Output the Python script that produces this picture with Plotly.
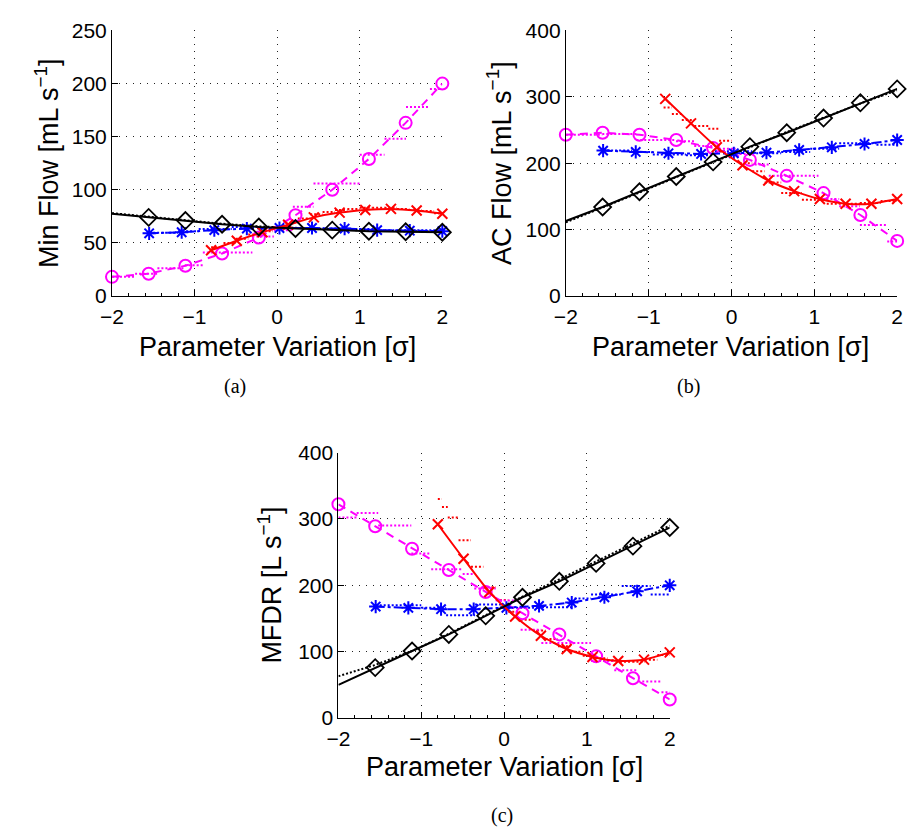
import plotly.graph_objects as go

W, H = 911, 837

# ---- x positions of the markers of each parameter sweep ----
x_grid = [-2.0, -1.556, -1.111, -0.667, -0.222, 0.222, 0.667, 1.111, 1.556, 2.0]
x_blue = [-1.55, -1.156, -0.761, -0.367, 0.028, 0.422, 0.817, 1.211, 1.606, 2.0]
x_red = [-0.8, -0.489, -0.178, 0.133, 0.444, 0.756, 1.067, 1.378, 1.689, 2.0]

# ---- (a) Min Flow [mL/s] ----
a_black = [77.5, 74, 71, 67.5, 65, 63.5, 62, 61, 60.5, 60]
a_black_dot = [78, 74.5, 71.5, 68, 65.5, 64, 62.5, 61.5, 61, 60.5]
a_blue = [59, 60, 62, 63.5, 64, 64, 63.5, 62, 61.5, 61]
a_red = [43, 52, 60, 67, 74, 78.5, 81, 82, 80.5, 77.5]
a_mag = [18, 21, 28.5, 40, 55, 76, 100, 129, 163, 200]
a_blue_sx = [-1.55, -1.2, -0.95, -0.55, -0.2, 0.1, 0.45, 0.85, 1.2, 1.6, 2.0]
a_blue_sy = [59.5, 61, 63, 65, 63, 64, 63.5, 63, 62, 62]
a_red_sx = [-0.8, -0.65, -0.5, -0.35, -0.2, -0.05, 0.1, 0.25, 0.4, 0.55,
            0.7, 0.85, 1.0, 1.15, 1.3, 1.45, 1.6, 1.75, 1.9, 2.0]
a_red_sy = [46, 50, 54, 58, 61, 65, 69, 73, 77, 79, 81, 82, 83, 83, 83, 82, 81, 80, 78]
a_mag_sx = [-2.0, -1.72, -1.45, -1.12, -0.90, -0.30, -0.04, 0.19, 0.44, 1.00,
            1.30, 1.56, 1.85, 2.0]
a_mag_sy = [18, 21, 26, 29, 41, 56, 62, 84, 106, 133, 148, 178, 195]

# ---- (b) AC Flow [mL/s] ----
b_black = [113, 134, 157, 180, 202, 225, 246, 268, 291, 312]
b_black_dot = [111, 133, 156, 179, 201, 224, 247, 269, 290, 310]
b_blue = [219, 217, 215, 214, 215, 216, 220, 224, 229, 235]
b_red = [297, 260, 224, 197, 174, 158, 146, 139, 139, 146]
b_mag = [243, 246, 243, 235, 223, 205, 181, 155, 122, 83]
b_blue_sx = [-1.55, -1.2, -0.95, -0.55, -0.2, 0.25, 0.6, 0.95, 1.3, 1.75, 2.0]
b_blue_sy = [219, 217, 213, 212, 218, 215, 217, 222, 230, 228]
b_red_sx = [-0.82, -0.72, -0.6, -0.45, -0.28, -0.15, 0.0, 0.1, 0.25, 0.4,
            0.6, 0.85, 1.15, 1.55, 1.8, 2.0]
b_red_sy = [284, 274, 265, 256, 252, 234, 216, 200, 188, 171, 155, 145, 139, 140, 143]
b_mag_sx = [-2.0, -1.56, -1.15, -0.67, -0.45, -0.2, 0.05, 0.28, 0.45, 1.05,
            1.3, 1.55, 1.88, 2.0]
b_mag_sy = [243, 244, 235, 233, 226, 222, 214, 198, 181, 146, 135, 107, 82]

# ---- (c) MFDR [L/s] ----
c_black = [50, 76, 101, 126, 154, 182, 206, 233, 259, 287]
c_black_dot = [63, 80, 101, 127, 155, 183, 209, 236, 262, 290]
c_blue = [168, 166, 164, 164, 166, 169, 174, 182, 191, 200]
c_red = [292, 240, 190, 153, 124, 104, 92, 86, 88, 99]
c_mag = [322, 289, 255, 223, 190, 158, 126, 93, 60, 28]
c_blue_sx = [-1.55, -1.0, -0.7, -0.35, 0.0, 0.41, 0.85, 1.05, 1.42, 1.77, 2.0]
c_blue_sy = [170, 166, 155, 171, 166, 167, 180, 186, 199, 186]
c_red_sx = [-0.8, -0.75, -0.68, -0.55, -0.4, -0.25, -0.1, 0.05, 0.2, 0.35, 0.5,
            0.65, 0.8, 0.95, 1.1, 1.25, 1.4, 1.55, 1.7, 1.85, 2.0]
c_red_sy = [330, 318, 302, 268, 228, 197, 178, 160, 148, 132, 119, 108, 100,
            94, 90, 87, 85, 85, 88, 95]
c_mag_sx = [-2.0, -1.78, -1.52, -1.12, -0.88, -0.5, -0.36, -0.1, 0.2, 0.45,
            1.05, 1.33, 1.62, 1.9, 2.0]
c_mag_sy = [302, 309, 290, 248, 224, 217, 195, 177, 133, 113, 86, 72, 55, 39]

BLACK, BLUE, RED, MAG = "#000000", "#0000ff", "#ff0000", "#ff00ff"
DOTS = "2px,2px"


def steps(xb, lv):
    """Horizontal step segments [xb[i], xb[i+1]] at level lv[i], no risers."""
    xs, ys = [], []
    for i, v in enumerate(lv):
        xs += [xb[i], xb[i + 1], None]
        ys += [v, v, None]
    return xs, ys


fig = go.Figure()


def add_panel(n, black, black_dot, blue, red, mag, bsx, bsy, rsx, rsy, msx, msy):
    xa, ya = ("x", "y") if n == 1 else (f"x{n}", f"y{n}")
    kw = dict(xaxis=xa, yaxis=ya, showlegend=False, hoverinfo="skip")
    # dotted step curves
    for sx, sy, col in ((bsx, bsy, BLUE), (rsx, rsy, RED), (msx, msy, MAG)):
        xs, ys = steps(sx, sy)
        fig.add_trace(go.Scatter(x=xs, y=ys, mode="lines",
                                 line=dict(color=col, width=2, dash=DOTS), **kw))
    fig.add_trace(go.Scatter(x=x_grid, y=black_dot, mode="lines",
                             line=dict(color=BLACK, width=2, dash=DOTS), **kw))
    # magenta: dashed with open circles
    fig.add_trace(go.Scatter(x=x_grid, y=mag, mode="lines+markers", cliponaxis=False,
                             line=dict(color=MAG, width=2, dash="8px,6px"),
                             marker=dict(symbol="circle-open", size=12, color=MAG,
                                         line=dict(width=2, color=MAG)), **kw))
    # blue: dash-dot with asterisks
    fig.add_trace(go.Scatter(x=x_blue, y=blue, mode="lines+markers", cliponaxis=False,
                             line=dict(color=BLUE, width=2, dash="dashdot"),
                             marker=dict(symbol="asterisk-open", size=11, color=BLUE,
                                         line=dict(width=2, color=BLUE)), **kw))
    # red: solid with crosses
    fig.add_trace(go.Scatter(x=x_red, y=red, mode="lines+markers", cliponaxis=False,
                             line=dict(color=RED, width=2, shape="spline", smoothing=0.6),
                             marker=dict(symbol="x-thin-open", size=10, color=RED,
                                         line=dict(width=2, color=RED)), **kw))
    # black: solid line with diamonds
    fig.add_trace(go.Scatter(x=x_grid, y=black, mode="lines",
                             line=dict(color=BLACK, width=2), **kw))
    fig.add_trace(go.Scatter(x=x_grid[1:], y=black[1:], mode="markers", cliponaxis=False,
                             marker=dict(symbol="diamond-open", size=13, color=BLACK,
                                         line=dict(width=1.8, color=BLACK)), **kw))


add_panel(1, a_black, a_black_dot, a_blue, a_red, a_mag,
          a_blue_sx, a_blue_sy, a_red_sx, a_red_sy, a_mag_sx, a_mag_sy)
add_panel(2, b_black, b_black_dot, b_blue, b_red, b_mag,
          b_blue_sx, b_blue_sy, b_red_sx, b_red_sy, b_mag_sx, b_mag_sy)
add_panel(3, c_black, c_black_dot, c_blue, c_red, c_mag,
          c_blue_sx, c_blue_sy, c_red_sx, c_red_sy, c_mag_sx, c_mag_sy)

TICKFONT = dict(family="Liberation Sans, Arial, sans-serif", size=21, color="black")
GRID = dict(showgrid=True, gridcolor="#222", gridwidth=1, griddash="1px,6px")


def xaxis(domain, anchor):
    return dict(domain=domain, anchor=anchor, range=[-2, 2], tick0=0, dtick=1,
                ticks="inside", ticklen=6, tickcolor="black", showline=True,
                linecolor="black", linewidth=1, mirror=False, zeroline=False,
                tickfont=TICKFONT, ticklabelstandoff=2,
                minor=dict(ticks="inside", dtick=0.2, ticklen=3,
                           tickcolor="black", showgrid=False),
                **GRID)


def yaxis(domain, anchor, top, step):
    return dict(domain=domain, anchor=anchor, range=[0, top], tick0=0, dtick=step,
                ticks="inside", ticklen=6, tickcolor="black", showline=True,
                linecolor="black", linewidth=1, mirror=False, zeroline=False,
                tickfont=TICKFONT, **GRID)


def fx(px):
    return px / W


def fy(py):
    return 1 - py / H


dom_a_x = [fx(102), fx(439)]
dom_b_x = [fx(565), fx(903)]
dom_c_x = [fx(333), fx(671)]
dom_top_y = [fy(292), fy(19)]
dom_c_y = [fy(726), fy(453)]

fig.update_layout(
    width=W, height=H,
    margin=dict(l=0, r=0, t=0, b=0),
    paper_bgcolor="white", plot_bgcolor="white",
    xaxis=xaxis(dom_a_x, "y"), yaxis=yaxis(dom_top_y, "x", 250, 50),
    xaxis2=xaxis(dom_b_x, "y2"), yaxis2=yaxis(dom_top_y, "x2", 400, 100),
    xaxis3=xaxis(dom_c_x, "y3"), yaxis3=yaxis(dom_c_y, "x3", 400, 100),
)

TITLEFONT = dict(family="Liberation Sans, Arial, sans-serif", size=27, color="black")
CAPFONT = dict(family="Liberation Serif, DejaVu Serif, serif", size=20, color="black")

labels = [
    ("Parameter Variation [σ]", 271, 344, 0, TITLEFONT),
    ("Parameter Variation [σ]", 733, 344, 0, TITLEFONT),
    ("Parameter Variation [σ]", 502, 776, 0, TITLEFONT),
    ("Min Flow [mL s<sup>−1</sup>]", 35, 155, -90, TITLEFONT),
    ("AC Flow [mL s<sup>−1</sup>]", 497, 155, -90, TITLEFONT),
    ("MFDR [L s<sup>−1</sup>]", 263, 589, -90, TITLEFONT),
    ("(a)", 228, 385, 0, CAPFONT),
    ("(b)", 690, 385, 0, CAPFONT),
    ("(c)", 500, 826, 0, CAPFONT),
]
for text, px, py, ang, font in labels:
    fig.add_annotation(text=text, x=fx(px), y=fy(py), xref="paper", yref="paper",
                       showarrow=False, textangle=ang, font=font,
                       xanchor="center", yanchor="middle")

fig.write_html("out.html")
